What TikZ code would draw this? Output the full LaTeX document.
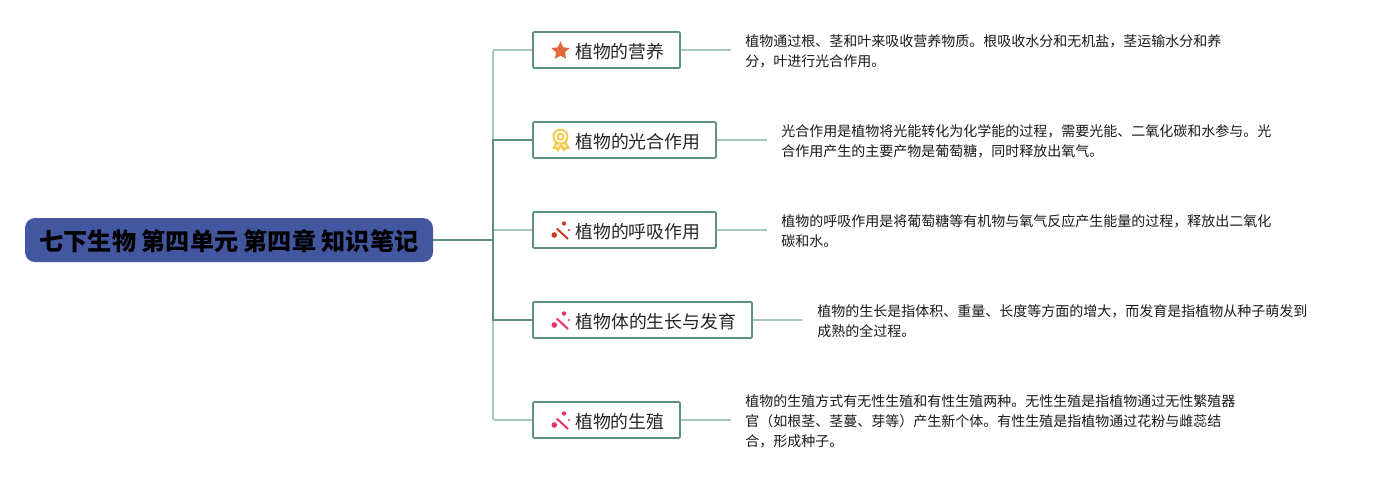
\documentclass[tikz,border=0pt]{standalone}
\usepackage{xcolor}
\usepackage{fontspec}
\setmainfont{Noto Sans CJK SC}
\usetikzlibrary{shapes.geometric, positioning, calc}
\definecolor{rootblue}{RGB}{67,87,160}
\definecolor{linedark}{RGB}{95,145,128}
\definecolor{linelight}{RGB}{168,200,188}
\definecolor{starorange}{RGB}{226,106,58}
\definecolor{medalyellow}{RGB}{245,200,66}
\definecolor{wandred}{RGB}{200,60,35}
\definecolor{wandpink}{RGB}{230,50,100}
\tikzset{
  rootbox/.style={rectangle, draw=none, fill=rootblue, rounded corners=7.5pt,
    minimum width=306pt, minimum height=33pt, inner sep=0pt,
    text height=15.4pt, text depth=0pt,
    font=\fontsize{18.1}{20}\selectfont\bfseries},
  topicbox/.style={rectangle, draw=linedark, fill=white, line width=1.3pt,
    rounded corners=0.8pt, minimum height=27pt, inner sep=0pt,
    text height=12.4pt, text depth=0pt,
    font=\fontsize{13.4}{16}\selectfont, text=black!85},
  notetext/.style={anchor=west, align=left, inner sep=0pt,
    font=\fontsize{10.5}{15}\selectfont, text=black!90},
  darkline/.style={line width=1.4pt, color=linedark},
  lightline/.style={line width=1.4pt, color=linelight},
  wandicon/.pic={
    \draw[line width=1.5pt] (-4.3,-2) -- (7,8.5);
    \fill (-6.7,4.5) circle (2.8);
    \fill (3,-7) circle (2.2);
    \fill (8,-0.5) circle (1.2);
  },
  medalicon/.pic={
    \draw[medalyellow, line width=1.4pt, fill=medalyellow!35, line join=round]
      (-3.5,1) -- (-7.5,8) -- (-4.5,8) -- (-3,10.5) -- (0,5);
    \draw[medalyellow, line width=1.4pt, fill=medalyellow!35, line join=round]
      (3.5,1) -- (7.5,8) -- (4.5,8) -- (3,10.5) -- (0,5);
    \draw[medalyellow, line width=1.4pt, fill=white] (-0.5,-3.3) circle (7);
    \draw[medalyellow, line width=1.4pt] (-0.5,-3.3) circle (3);
  }
}
\begin{document}
\begin{tikzpicture}[x=0.75pt, y=-0.75pt]
  \useasboundingbox (0,0) rectangle (1377,480);
  \node[rootbox] (root) at (229,240) {七下生物 第四单元 第四章 知识笔记};
  \coordinate (hub) at (493,240);

  \node[topicbox, minimum width=110.25pt] (yingyang) at (606.5,50) {\hspace*{20pt}植物的营养};
  \node[topicbox, minimum width=137.25pt] (guanghe) at (624.5,140) {\hspace*{20pt}植物的光合作用};
  \node[topicbox, minimum width=137.25pt] (huxi) at (624.5,230) {\hspace*{20pt}植物的呼吸作用};
  \node[topicbox, minimum width=164.25pt] (shengzhang) at (642.5,320) {\hspace*{20pt}植物体的生长与发育};
  \node[topicbox, minimum width=110.25pt] (shengzhi) at (606.5,420) {\hspace*{20pt}植物的生殖};

  \node[notetext] (noteyingyang) at (745,51) {植物通过根、茎和叶来吸收营养物质。根吸收水分和无机盐，茎运输水分和养\\分，叶进行光合作用。};
  \node[notetext] (noteguanghe) at (781,141) {光合作用是植物将光能转化为化学能的过程，需要光能、二氧化碳和水参与。光\\合作用产生的主要产物是葡萄糖，同时释放出氧气。};
  \node[notetext] (notehuxi) at (781,231) {植物的呼吸作用是将葡萄糖等有机物与氧气反应产生能量的过程，释放出二氧化\\碳和水。};
  \node[notetext] (noteshengzhang) at (817,321) {植物的生长是指体积、重量、长度等方面的增大，而发育是指植物从种子萌发到\\成熟的全过程。};
  \node[notetext] (noteshengzhi) at (745,421) {植物的生殖方式有无性生殖和有性生殖两种。无性生殖是指植物通过无性繁殖器\\官（如根茎、茎蔓、芽等）产生新个体。有性生殖是指植物通过花粉与雌蕊结\\合，形成种子。};

  \draw[lightline, rounded corners=1.5pt] (hub) |- (yingyang.west);
  \draw[lightline, rounded corners=1.5pt] (hub) |- (shengzhi.west);
  \draw[lightline] (hub |- huxi.west) -- (huxi.west);
  \draw[darkline] (hub) |- (guanghe.west);
  \draw[darkline] (hub) |- (shengzhang.west);
  \draw[darkline] (root.east) -- (hub);

  \draw[lightline] (yingyang.east) -- +(50,0);
  \draw[lightline] (guanghe.east) -- +(50,0);
  \draw[lightline] (huxi.east) -- +(50,0);
  \draw[lightline] (shengzhang.east) -- +(50,0);
  \draw[lightline] (shengzhi.east) -- +(50,0);

  \node[star, star points=5, star point ratio=2.1, fill=starorange, minimum size=14.5pt, inner sep=0pt] (staricon) at (560.5,51) {};
  \pic at (561,140) {medalicon};
  \pic[wandred] at (561,230.5) {wandicon};
  \pic[wandpink] at (561,320.5) {wandicon};
  \pic[wandpink] at (561,420.5) {wandicon};
\end{tikzpicture}
\end{document}
